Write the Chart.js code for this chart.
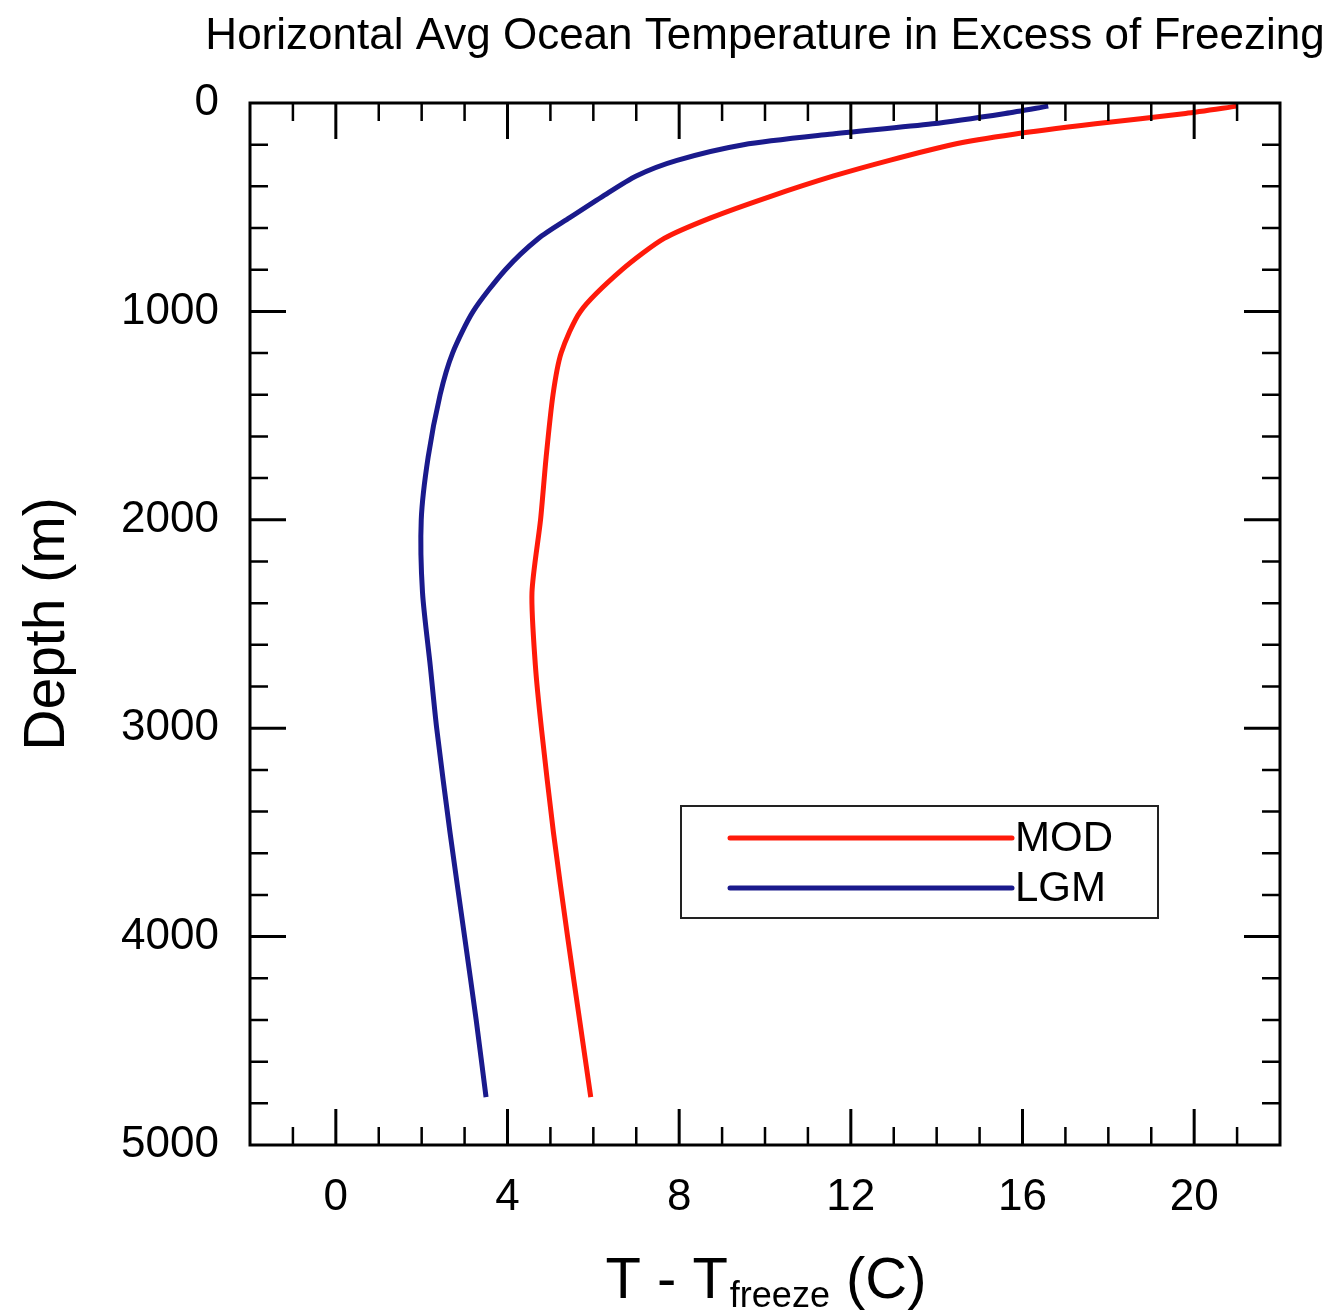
<!DOCTYPE html>
<html lang="en">
<head>
    <meta charset="UTF-8">
    <title>Horizontal Avg Ocean Temperature</title>
    <script src="https://cdn.jsdelivr.net/npm/chart.js"></script>
    <style>
        body { margin: 0; padding: 0; background: #fff; }
        #chart { display: block; }
    </style>
</head>
<body>
<canvas id="chart" width="1325" height="1310"></canvas>

<script>
    // depth levels (m) and temperature above freezing (C)
    const depthM  = [15, 50, 100, 150, 200, 275, 350, 450, 550, 650, 800, 1000, 1200, 1400, 1700, 2000, 2350, 2700, 3000, 3500, 4000, 4400, 4770];
    const modTemp = [21.0, 19.8, 17.7, 15.8, 14.35, 12.9, 11.6, 10.1, 8.75, 7.65, 6.67, 5.7, 5.25, 5.06, 4.9, 4.77, 4.57, 4.65, 4.79, 5.07, 5.4, 5.68, 5.94];
    const lgmTemp = [16.6, 15.6, 13.9, 11.5, 9.5, 7.95, 7.0, 6.2, 5.45, 4.72, 3.95, 3.2, 2.72, 2.43, 2.15, 1.99, 2.02, 2.2, 2.35, 2.66, 3.0, 3.27, 3.5];
    const seriesNames = ['MOD', 'LGM'];

    // tick labels
    const xTicks = [0, 4, 8, 12, 16, 20];
    const yTicks = [0, 1000, 2000, 3000, 4000, 5000];

    const chartTitle = 'Horizontal Avg Ocean Temperature in Excess of Freezing';
    const FONT = "'Liberation Sans', Arial, Helvetica, sans-serif";

    function toPoints(temps) {
        return temps.map((t, i) => ({ x: t, y: depthM[i] }));
    }

    // box round the plot with inward ticks, major + minor, on all four sides
    const frameTicks = {
        id: 'frameTicks',
        afterDatasetsDraw(chart) {
            const { ctx, chartArea: a, scales } = chart;
            const xs = scales.x, ys = scales.y;
            ctx.save();
            ctx.strokeStyle = '#000';
            ctx.lineCap = 'butt';

            // x ticks, minor every 1
            for (let v = Math.ceil(xs.min); v <= xs.max; v++) {
                if (v === xs.min || v === xs.max) continue;
                const major = xTicks.includes(v);
                const len = major ? 36 : 18;
                const px = xs.getPixelForValue(v);
                ctx.lineWidth = major ? 3 : 2.5;
                ctx.beginPath();
                ctx.moveTo(px, a.bottom); ctx.lineTo(px, a.bottom - len);
                ctx.moveTo(px, a.top); ctx.lineTo(px, a.top + len);
                ctx.stroke();
            }
            // y ticks, minor every 200
            for (let v = 200; v < ys.max; v += 200) {
                const major = yTicks.includes(v);
                const len = major ? 36 : 18;
                const py = ys.getPixelForValue(v);
                ctx.lineWidth = major ? 3 : 2.5;
                ctx.beginPath();
                ctx.moveTo(a.left, py); ctx.lineTo(a.left + len, py);
                ctx.moveTo(a.right, py); ctx.lineTo(a.right - len, py);
                ctx.stroke();
            }

            ctx.lineWidth = 3;
            ctx.strokeRect(a.left, a.top, a.right - a.left, a.bottom - a.top);
            ctx.restore();
        }
    };

    // title over the plot centre, and the x axis title with its subscript
    const titles = {
        id: 'titles',
        afterDraw(chart) {
            const { ctx, chartArea: a } = chart;
            const cx = (a.left + a.right) / 2;
            ctx.save();
            ctx.fillStyle = '#000';

            ctx.font = '44px ' + FONT;
            ctx.textAlign = 'center';
            ctx.textBaseline = 'middle';
            ctx.fillText(chartTitle, cx, a.top - 66);

            const big = '58px ' + FONT, small = '36px ' + FONT;
            const p1 = 'T - T', sub = 'freeze', p2 = ' (C)';
            ctx.textAlign = 'left';
            ctx.textBaseline = 'alphabetic';
            ctx.font = big;
            const w1 = ctx.measureText(p1).width, w3 = ctx.measureText(p2).width;
            ctx.font = small;
            const w2 = ctx.measureText(sub).width;
            let x = cx - (w1 + w2 + w3) / 2;
            const base = a.bottom + 153;
            ctx.font = big;
            ctx.fillText(p1, x, base);
            x += w1;
            ctx.font = small;
            ctx.fillText(sub, x + 2, base + 9);
            x += w2 + 2;
            ctx.font = big;
            ctx.fillText(p2, x, base);
            ctx.restore();
        }
    };

    // legend box inside the plot: line sample then label
    const boxLegend = {
        id: 'boxLegend',
        afterDraw(chart) {
            const { ctx, chartArea: a } = chart;
            const left = a.left + 431, top = a.top + 703, w = 477, h = 112;
            ctx.save();
            ctx.strokeStyle = '#222';
            ctx.lineWidth = 2;
            ctx.strokeRect(left, top, w, h);
            ctx.font = '42px ' + FONT;
            ctx.textBaseline = 'middle';
            chart.data.datasets.forEach((ds, i) => {
                const y = top + 32 + i * 50;
                ctx.strokeStyle = ds.borderColor;
                ctx.lineWidth = 5;
                ctx.lineCap = 'round';
                ctx.beginPath();
                ctx.moveTo(left + 49, y);
                ctx.lineTo(left + 331, y);
                ctx.stroke();
                ctx.fillStyle = '#000';
                ctx.fillText(ds.label, left + 334, y + 1);
            });
            ctx.restore();
        }
    };

    const ctx = document.getElementById('chart').getContext('2d');
    const chart = new Chart(ctx, {
        type: 'scatter',
        data: {
            datasets: [{
                label: seriesNames[0],
                data: toPoints(modTemp),
                borderColor: '#ff1a0a',
                borderWidth: 5,
                showLine: true,
                pointRadius: 0,
                tension: 0.25
            }, {
                label: seriesNames[1],
                data: toPoints(lgmTemp),
                borderColor: '#1a1a8c',
                borderWidth: 5,
                showLine: true,
                pointRadius: 0,
                tension: 0.25
            }]
        },
        options: {
            responsive: false,
            animation: false,
            layout: { padding: { left: 0, right: 45, top: 103, bottom: 0 } },
            plugins: {
                legend: { display: false },
                tooltip: { enabled: false },
                title: { display: false }
            },
            scales: {
                x: {
                    type: 'linear',
                    min: -2,
                    max: 22,
                    afterBuildTicks: s => { s.ticks = xTicks.map(v => ({ value: v })); },
                    afterFit: s => { s.height = 165; },
                    grid: { display: false, drawTicks: false },
                    border: { display: false },
                    ticks: {
                        color: '#000',
                        padding: 26,
                        font: { family: FONT, size: 44 },
                        callback: v => String(v)
                    }
                },
                y: {
                    type: 'linear',
                    reverse: true,
                    min: 0,
                    max: 5000,
                    afterBuildTicks: s => { s.ticks = yTicks.map(v => ({ value: v })); },
                    afterFit: s => { s.width = 250; },
                    grid: { display: false, drawTicks: false },
                    border: { display: false },
                    ticks: {
                        color: '#000',
                        padding: 31,
                        font: { family: FONT, size: 44 },
                        callback: v => String(v)
                    },
                    title: {
                        display: true,
                        text: 'Depth (m)',
                        color: '#000',
                        font: { family: FONT, size: 57 },
                        padding: { top: 14 }
                    }
                }
            }
        },
        plugins: [frameTicks, titles, boxLegend]
    });
</script>
</body>
</html>
